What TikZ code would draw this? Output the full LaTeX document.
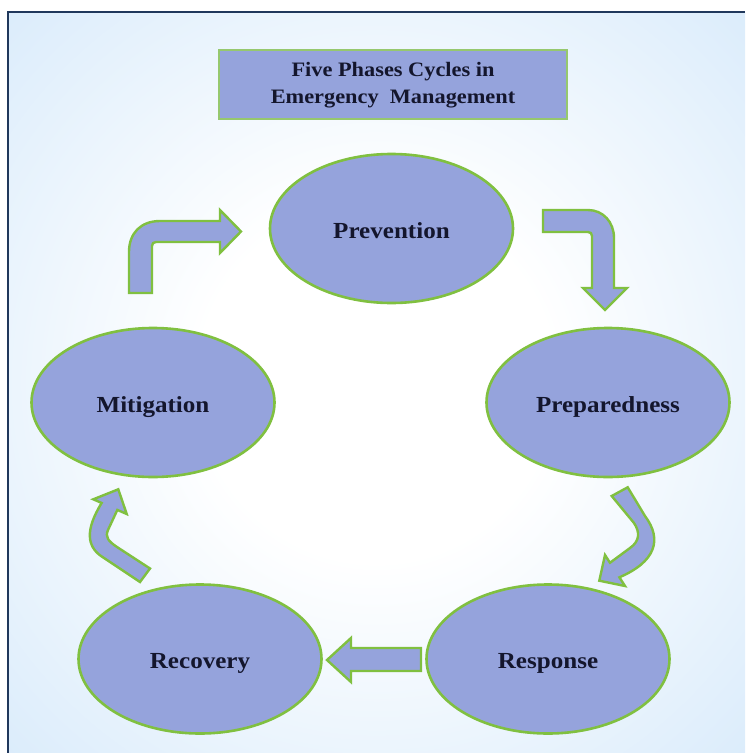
\documentclass[tikz,border=0pt]{standalone}
\usepackage{fontspec}
\usetikzlibrary{shapes.geometric}
\newfontfamily\lblfont[FakeStretch=1.09]{Liberation Serif}
\definecolor{bgblue}{RGB}{200,226,249}
\definecolor{shapeblue}{RGB}{149,163,220}
\definecolor{shapegreen}{RGB}{128,192,64}
\definecolor{titlegreen}{RGB}{150,200,110}
\definecolor{txtnavy}{RGB}{20,22,45}
\definecolor{framenavy}{RGB}{32,56,92}
\pgfdeclareradialshading{bgrad}{\pgfpoint{0bp}{0bp}}{color(0bp)=(white); color(12bp)=(white); color(48bp)=(bgblue); color(72bp)=(bgblue)}
\begin{document}
\begin{tikzpicture}[x=1pt,y=-1pt,
  phase/.style={ellipse, draw=shapegreen, fill=shapeblue, line width=2.6pt,
    minimum width=243pt, minimum height=149pt, inner sep=0pt, text=txtnavy,
    font=\lblfont\bfseries\fontsize{23}{26}\selectfont, text height=20pt, text depth=1pt},
  titlebox/.style={draw=titlegreen, fill=shapeblue, line width=2.2pt,
    minimum width=348pt, minimum height=69pt, inner sep=0pt, align=center, text=txtnavy,
    font=\lblfont\bfseries\fontsize{20.5}{27}\selectfont},
  blockarrow/.style={draw=shapegreen, fill=shapeblue, line width=2.4pt, line join=miter},
  framerule/.style={draw=framenavy, line width=2.4pt, line join=miter}
]
\useasboundingbox (0,0) rectangle (745,753);
% background
\shade[shading=bgrad] (7.8,12) rectangle (745,753);
\draw[framerule] (7.8,753) -- (7.8,12) -- (745,12);

% title
\node[titlebox] (title) at (393,84.7) {Five Phases Cycles in\\Emergency\ \ Management};

% phases
\node[phase] (prev) at (391.5,228.5) {Prevention};
\node[phase] (prep) at (608,402.5) {Preparedness};
\node[phase] (resp) at (548,659) {Response};
\node[phase] (reco) at (200,659) {Recovery};
\node[phase] (miti) at (153,402.5) {Mitigation};

% Mitigation -> Prevention (bent arrow)
\filldraw[blockarrow] (129,293) -- (129,252) .. controls (129,233) and (141,221) .. (160,221)
  -- (220,221) -- (220,210) -- (241,231.5) -- (220,253) -- (220,242) -- (156,242)
  .. controls (153.5,242) and (152,243.5) .. (152,246) -- (152,293) -- cycle;

% Prevention -> Preparedness (bent arrow)
\filldraw[blockarrow] (543,210) -- (588,210) .. controls (603,210) and (614,222) .. (614,238)
  -- (614,288) -- (627,288) -- (605,310) -- (583,288) -- (592,288) -- (592,236)
  .. controls (592,233.5) and (590.5,232) .. (588,232) -- (543,232) -- cycle;

% Preparedness -> Response (curved arrow)
\filldraw[blockarrow] (611.7,496) -- (627.7,487.3) -- (645,516)
  .. controls (663,540) and (655,562) .. (619.4,577.3)
  -- (625,586) -- (599.3,580.7) -- (605,555) -- (610,562.75) -- (630,548)
  .. controls (640,541) and (640,532) .. (634,523) -- cycle;

% Response -> Recovery (straight arrow)
\filldraw[blockarrow] (421,648) -- (351,648) -- (351,638) -- (327,660) -- (351,682)
  -- (351,671) -- (421,671) -- cycle;

% Recovery -> Mitigation (curved arrow)
\filldraw[blockarrow] (118.3,489.3) -- (126.7,514) -- (117.35,509.9) -- (108,530)
  .. controls (105,537) and (108,541) .. (117,547) -- (150,568.5) -- (140,582)
  -- (101,556) .. controls (87,546) and (85,530) .. (101.65,502.975)
  -- (93.3,499.3) -- cycle;
\end{tikzpicture}
\end{document}
